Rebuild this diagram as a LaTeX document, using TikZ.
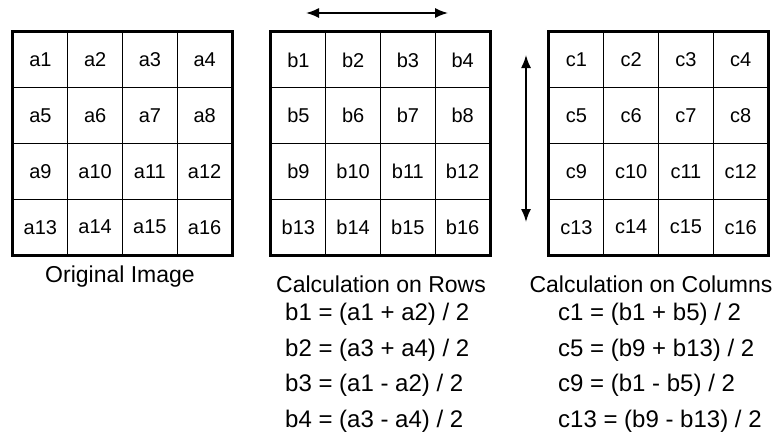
\documentclass[tikz,border=0pt]{standalone}
\usepackage{fontspec}
\setmainfont{Liberation Sans}
\usetikzlibrary{arrows.meta}
\begin{document}
\begin{tikzpicture}[x=1pt,y=-1pt,
 cellbox/.style={draw=black,line width=1.4pt,minimum width=54.75pt,minimum height=55.75pt,inner sep=0pt,font=\fontsize{20}{20}\selectfont},
 gridframe/.style={draw=black,line width=2pt},
 captext/.style={font=\fontsize{23}{23}\selectfont,inner sep=0pt,anchor=base},
 eqtext/.style={font=\fontsize{24}{24}\selectfont,inner sep=0pt,anchor=base west},
 dblarrow/.style={line width=1.6pt,{Latex[length=13pt,width=10pt]}-{Latex[length=13pt,width=10pt]}}]
\useasboundingbox (0,0) rectangle (781,437);
\foreach \g/\x in {a/13,b/271,c/549}{
  \foreach \r in {0,...,3}{
    \foreach \c in {0,...,3}{
      \pgfmathtruncatemacro\n{\r*4+\c+1}
      \node[cellbox] (\g\n) at (\x+54.75*\c+27.375, 32+55.75*\r+27.875) {\g\n};
    }
  }
  \draw[gridframe] (\g1.north west) rectangle (\g16.south east);
}
% arrows
\coordinate (hl) at (306,13);
\coordinate (hr) at (448,13);
\draw[dblarrow] (hl) -- (hr);
\coordinate (vt) at (526,55);
\coordinate (vb) at (526,222);
\draw[dblarrow] (vt) -- (vb);
% captions
\node[captext] (capA) at (120,282) {Original Image};
\node[captext] (capB) at (381,292) {Calculation on Rows};
\node[captext] (capC) at (651,292) {Calculation on Columns};
% equations
\node[eqtext] (eb1) at (285,320) {b1 = (a1 + a2) / 2};
\node[eqtext] (eb2) at (285,356) {b2 = (a3 + a4) / 2};
\node[eqtext] (eb3) at (285,391) {b3 = (a1 - a2) / 2};
\node[eqtext] (eb4) at (285,427) {b4 = (a3 - a4) / 2};
\node[eqtext] (ec1) at (558,320) {c1 = (b1 + b5) / 2};
\node[eqtext] (ec5) at (558,356) {c5 = (b9 + b13) / 2};
\node[eqtext] (ec9) at (558,391) {c9 = (b1 - b5) / 2};
\node[eqtext] (ec13) at (558,427) {c13 = (b9 - b13) / 2};
\end{tikzpicture}
\end{document}
